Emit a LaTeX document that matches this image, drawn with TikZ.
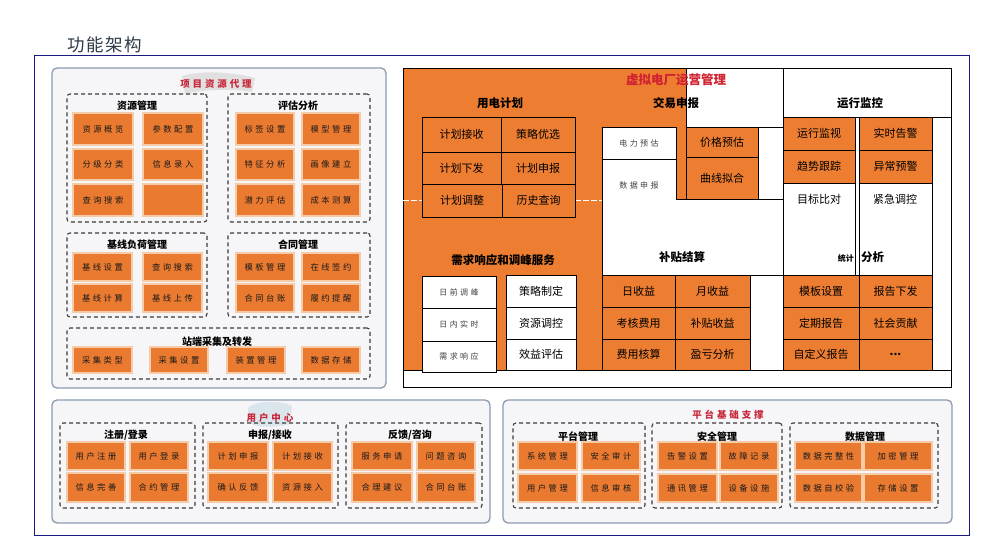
\documentclass[tikz,border=0pt]{standalone}
\usepackage{fontspec}
\setmainfont{Noto Sans CJK SC}
\newfontfamily\cjksp[LetterSpace=30]{Noto Sans CJK SC}
\newfontfamily\cjkti[LetterSpace=8]{Noto Sans CJK SC}
\definecolor{mor}{HTML}{ED7D31}
\definecolor{pcor}{HTML}{EA7A30}
\definecolor{cellbd}{HTML}{F6CBA8}
\definecolor{panelbd}{HTML}{8C9BB0}
\definecolor{panelbg}{HTML}{F6F6F8}
\definecolor{grpc}{HTML}{3C3C3C}
\definecolor{redt}{HTML}{C8283A}
\definecolor{navyc}{HTML}{1A1A80}
\definecolor{titc}{HTML}{2E3A48}
\newcommand\bx[7][]{%
  \pgfmathsetmacro\bxw{#5-#3}%
  \pgfmathsetmacro\bxh{#6-#4}%
  \node[#1,minimum width=\bxw pt,minimum height=\bxh pt] (#2) at ({(#3+#5)/2},{(#4+#6)/2}) {#7};}
\begin{document}
\begin{tikzpicture}[x=1pt,y=-1pt,
  pcell/.style={draw=cellbd,line width=1.2pt,fill=pcor,inner sep=0,outer sep=0,text=black!90,font=\cjksp\fontsize{8.3}{9}\selectfont},
  grp/.style={draw=grpc,dash pattern=on 4pt off 3pt,line width=1.1pt,rounded corners=3pt,inner sep=0},
  gtitle/.style={font=\bfseries\fontsize{10}{11}\selectfont,inner sep=0},
  rtitle/.style={font=\cjksp\bfseries\fontsize{9.5}{10}\selectfont,text=redt,inner sep=0},
  panel/.style={draw=panelbd,line width=1.3pt,rounded corners=5pt,fill=panelbg,inner sep=0},
  mcell/.style={draw=black,line width=0.8pt,fill=mor,inner sep=0,font=\fontsize{11}{12}\selectfont},
  wcell/.style={draw=black,line width=0.8pt,fill=white,inner sep=0,font=\fontsize{11}{12}\selectfont},
  wsm/.style={draw=black,line width=0.8pt,fill=white,inner sep=0,text=black!75,font=\cjksp\fontsize{8}{9}\selectfont},
  mtitle/.style={font=\bfseries\fontsize{11.5}{12}\selectfont,inner sep=0},
  wbox/.style={draw=black,line width=0.8pt,fill=white}]
\useasboundingbox (0,0) rectangle (981,546);
\fill[white] (0,0) rectangle (981,546);
% title and frame
\node[font=\cjkti\fontsize{17.5}{18}\selectfont,text=titc,inner sep=0] (title) at (105,45) {功能架构};
\draw[navyc,line width=0.9pt] (34,55) rectangle (969,535);

% ===== left panel
\bx[panel]{pL}{52}{68}{386}{388}{}
\fill[gray!40,opacity=0.5] (182,76) .. controls (200,70) and (235,72) .. (255,78) -- (252,92) .. controls (230,88) and (200,90) .. (185,94) -- cycle;
\node[rtitle] (tL) at (216,84) {项目资源代理};
% 资源管理
\bx[grp]{g1}{67}{94}{207}{222}{}
\node[gtitle] (g1t) at (137,106) {资源管理};
\bx[pcell]{c11}{73}{113}{133}{145}{资源概览}
\bx[pcell]{c12}{143}{113}{203}{145}{参数配置}
\bx[pcell]{c13}{73}{149}{133}{180}{分级分类}
\bx[pcell]{c14}{143}{149}{203}{180}{信息录入}
\bx[pcell]{c15}{73}{184}{133}{216}{查询搜索}
\bx[pcell]{c16}{143}{184}{203}{216}{}
% 评估分析
\bx[grp]{g2}{228}{94}{370}{222}{}
\node[gtitle] (g2t) at (298,106) {评估分析};
\bx[pcell]{c21}{236}{113}{294}{145}{标签设置}
\bx[pcell]{c22}{302}{113}{360}{145}{模型管理}
\bx[pcell]{c23}{236}{149}{294}{180}{特征分析}
\bx[pcell]{c24}{302}{149}{360}{180}{画像建立}
\bx[pcell]{c25}{236}{184}{294}{216}{潜力评估}
\bx[pcell]{c26}{302}{184}{360}{216}{成本测算}
% 基线负荷管理
\bx[grp]{g3}{67}{233}{207}{317}{}
\node[gtitle] (g3t) at (137,245) {基线负荷管理};
\bx[pcell]{c31}{73}{253}{132}{281}{基线设置}
\bx[pcell]{c32}{143}{253}{202}{281}{查询搜索}
\bx[pcell]{c33}{73}{284}{132}{312}{基线计算}
\bx[pcell]{c34}{143}{284}{202}{312}{基线上传}
% 合同管理
\bx[grp]{g4}{228}{233}{370}{317}{}
\node[gtitle] (g4t) at (298,245) {合同管理};
\bx[pcell]{c41}{236}{253}{294}{281}{模板管理}
\bx[pcell]{c42}{302}{253}{360}{281}{在线签约}
\bx[pcell]{c43}{236}{284}{294}{312}{合同台账}
\bx[pcell]{c44}{302}{284}{360}{312}{履约提醒}
% 站端采集及转发
\bx[grp]{g5}{67}{328}{370}{379}{}
\node[gtitle] (g5t) at (217,342) {站端采集及转发};
\bx[pcell]{c51}{73}{347}{132}{373}{采集类型}
\bx[pcell]{c52}{150}{347}{208}{373}{采集设置}
\bx[pcell]{c53}{227}{347}{285}{373}{装置管理}
\bx[pcell]{c54}{302}{347}{360}{373}{数据存储}

% ===== user center
\bx[panel]{pU}{52}{400}{490}{523}{}
\fill[cyan!40!gray!40,opacity=0.5] (248,408) .. controls (255,400) and (280,400) .. (292,406) -- (290,424) .. controls (275,428) and (255,428) .. (248,422) -- cycle;
\node[rtitle] (tU) at (270,418) {用户中心};
\bx[grp]{u1}{60}{423}{195}{508}{}
\node[gtitle] (u1t) at (126,435) {注册/登录};
\bx[pcell]{u11}{67}{442}{125}{470}{用户注册}
\bx[pcell]{u12}{130}{442}{188}{470}{用户登录}
\bx[pcell]{u13}{67}{473}{125}{502}{信息完善}
\bx[pcell]{u14}{130}{473}{188}{502}{合约管理}
\bx[grp]{u2}{203}{423}{338}{508}{}
\node[gtitle] (u2t) at (270,435) {申报/接收};
\bx[pcell]{u21}{208}{442}{268}{470}{计划申报}
\bx[pcell]{u22}{273}{442}{332}{470}{计划接收}
\bx[pcell]{u23}{208}{473}{268}{502}{确认反馈}
\bx[pcell]{u24}{273}{473}{332}{502}{资源接入}
\bx[grp]{u3}{346}{423}{482}{508}{}
\node[gtitle] (u3t) at (410,435) {反馈/咨询};
\bx[pcell]{u31}{352}{442}{412}{470}{服务申请}
\bx[pcell]{u32}{417}{442}{475}{470}{问题咨询}
\bx[pcell]{u33}{352}{473}{412}{502}{合理建议}
\bx[pcell]{u34}{417}{473}{475}{502}{合同台账}

% ===== platform
\bx[panel]{pP}{503}{400}{952}{523}{}
\node[rtitle] (tP) at (728,415) {平台基础支撑};
\bx[grp]{s1}{513}{423}{645}{508}{}
\node[gtitle] (s1t) at (578,437) {平台管理};
\bx[pcell]{s11}{518}{442}{577}{470}{系统管理}
\bx[pcell]{s12}{582}{442}{640}{470}{安全审计}
\bx[pcell]{s13}{518}{474}{577}{502}{用户管理}
\bx[pcell]{s14}{582}{474}{640}{502}{信息审核}
\bx[grp]{s2}{652}{423}{782}{508}{}
\node[gtitle] (s2t) at (717,437) {安全管理};
\bx[pcell]{s21}{658}{442}{717}{470}{告警设置}
\bx[pcell]{s22}{720}{442}{778}{470}{故障记录}
\bx[pcell]{s23}{658}{474}{717}{502}{通讯管理}
\bx[pcell]{s24}{720}{474}{778}{502}{设备设施}
\bx[grp]{s3}{790}{423}{938}{508}{}
\node[gtitle] (s3t) at (865,437) {数据管理};
\bx[pcell]{s31}{795}{442}{862}{470}{数据完整性}
\bx[pcell]{s32}{864}{442}{932}{470}{加密管理}
\bx[pcell]{s33}{795}{474}{862}{502}{数据自校验}
\bx[pcell]{s34}{864}{474}{932}{502}{存储设置}

% ===== main block
\draw[wbox] (403,68) rectangle (951,387);
\fill[mor] (403,68) -- (686,68) -- (686,199) -- (602,199) -- (602,370) -- (403,370) -- cycle;
\draw[black,line width=0.8pt] (403,68) rectangle (951,387);
\draw[black,line width=0.8pt] (403,370) -- (951,370);
\draw[white,line width=0.8pt,dash pattern=on 6pt off 2pt] (403,200) -- (422,200);
\draw[white,line width=0.8pt,dash pattern=on 6pt off 2pt] (575,200) -- (602,200);
% 用电计划
\bx[mcell]{a1}{422}{117}{501}{152}{计划接收}
\bx[mcell]{a2}{501}{117}{575}{152}{策略优选}
\bx[mcell]{a3}{422}{152}{501}{184}{计划下发}
\bx[mcell]{a4}{501}{152}{575}{184}{计划申报}
\bx[mcell]{a5}{422}{184}{502}{217}{计划调整}
\bx[mcell]{a6}{502}{184}{575}{217}{历史查询}
% 需求响应
\bx[wsm]{d1}{422}{276}{496}{308}{日前调峰}
\bx[wsm]{d2}{422}{308}{496}{341}{日内实时}
\bx[wsm]{d3}{422}{341}{496}{372}{需求响应}
\bx[wcell]{d4}{506}{275}{576}{307}{策略制定}
\bx[wcell]{d5}{506}{307}{576}{339}{资源调控}
\bx[wcell]{d6}{506}{339}{576}{370}{效益评估}
% 交易申报
\draw[wbox] (686,68) rectangle (783,127);
\bx[wsm]{b1}{602}{127}{676}{159}{电力预估}
\draw[wbox] (602,159) -- (676,159) -- (676,199) -- (783,199) -- (783,275) -- (602,275) -- cycle;
\node[inner sep=0,text=black!75,font=\cjksp\fontsize{8}{9}\selectfont] (b2) at (639,185) {数据申报};
\bx[mcell]{b3}{686}{127}{758}{157}{价格预估}
\bx[mcell]{b4}{686}{157}{758}{199}{曲线拟合}
\draw[wbox] (758,127) rectangle (783,199);
% 补贴结算
\bx[mcell]{e1}{602}{275}{675}{307}{日收益}
\bx[mcell]{e2}{675}{275}{750}{307}{月收益}
\bx[mcell]{e3}{602}{307}{675}{339}{考核费用}
\bx[mcell]{e4}{675}{307}{750}{339}{补贴收益}
\bx[mcell]{e5}{602}{339}{675}{370}{费用核算}
\bx[mcell]{e6}{675}{339}{750}{370}{盈亏分析}
% 运行监控
\draw[wbox] (783,68) rectangle (951,117);
\bx[mcell]{f1}{783}{117}{855}{150}{运行监视}
\bx[mcell]{f2}{859}{117}{932}{150}{实时告警}
\bx[mcell]{f3}{783}{150}{855}{183}{趋势跟踪}
\bx[mcell]{f4}{859}{150}{932}{183}{异常预警}
\draw[wbox] (783,183) rectangle (855,275);
\draw[wbox] (859,183) rectangle (932,275);
\node[inner sep=0,font=\fontsize{11}{12}\selectfont] (f5) at (819,199) {目标比对};
\node[inner sep=0,font=\fontsize{11}{12}\selectfont] (f6) at (895,199) {紧急调控};
\draw[wbox] (932,117) rectangle (951,370);
\bx[mcell]{h1}{783}{275}{859}{307}{模板设置}
\bx[mcell]{h2}{859}{275}{932}{307}{报告下发}
\bx[mcell]{h3}{783}{307}{859}{339}{定期报告}
\bx[mcell]{h4}{859}{307}{932}{339}{社会贡献}
\bx[mcell]{h5}{783}{339}{859}{370}{自定义报告}
\bx[mcell]{h6}{859}{339}{932}{370}{\textbf{...}}
% titles
\node[font=\bfseries\fontsize{12.5}{13}\selectfont,text=redt!85!red,inner sep=0] (mt) at (676,80) {虚拟电厂运营管理};
\node[mtitle] (t1) at (500,103) {用电计划};
\node[mtitle] (t2) at (676,103) {交易申报};
\node[mtitle] (t3) at (860,103) {运行监控};
\node[mtitle] (t4) at (503,260) {需求响应和调峰服务};
\node[mtitle] (t5) at (682,257) {补贴结算};
\node[font=\bfseries\fontsize{8}{9}\selectfont,inner sep=0,anchor=east] (t6a) at (854,258) {统计};
\node[mtitle,anchor=west] (t6b) at (861,257) {分析};
\end{tikzpicture}
\end{document}
